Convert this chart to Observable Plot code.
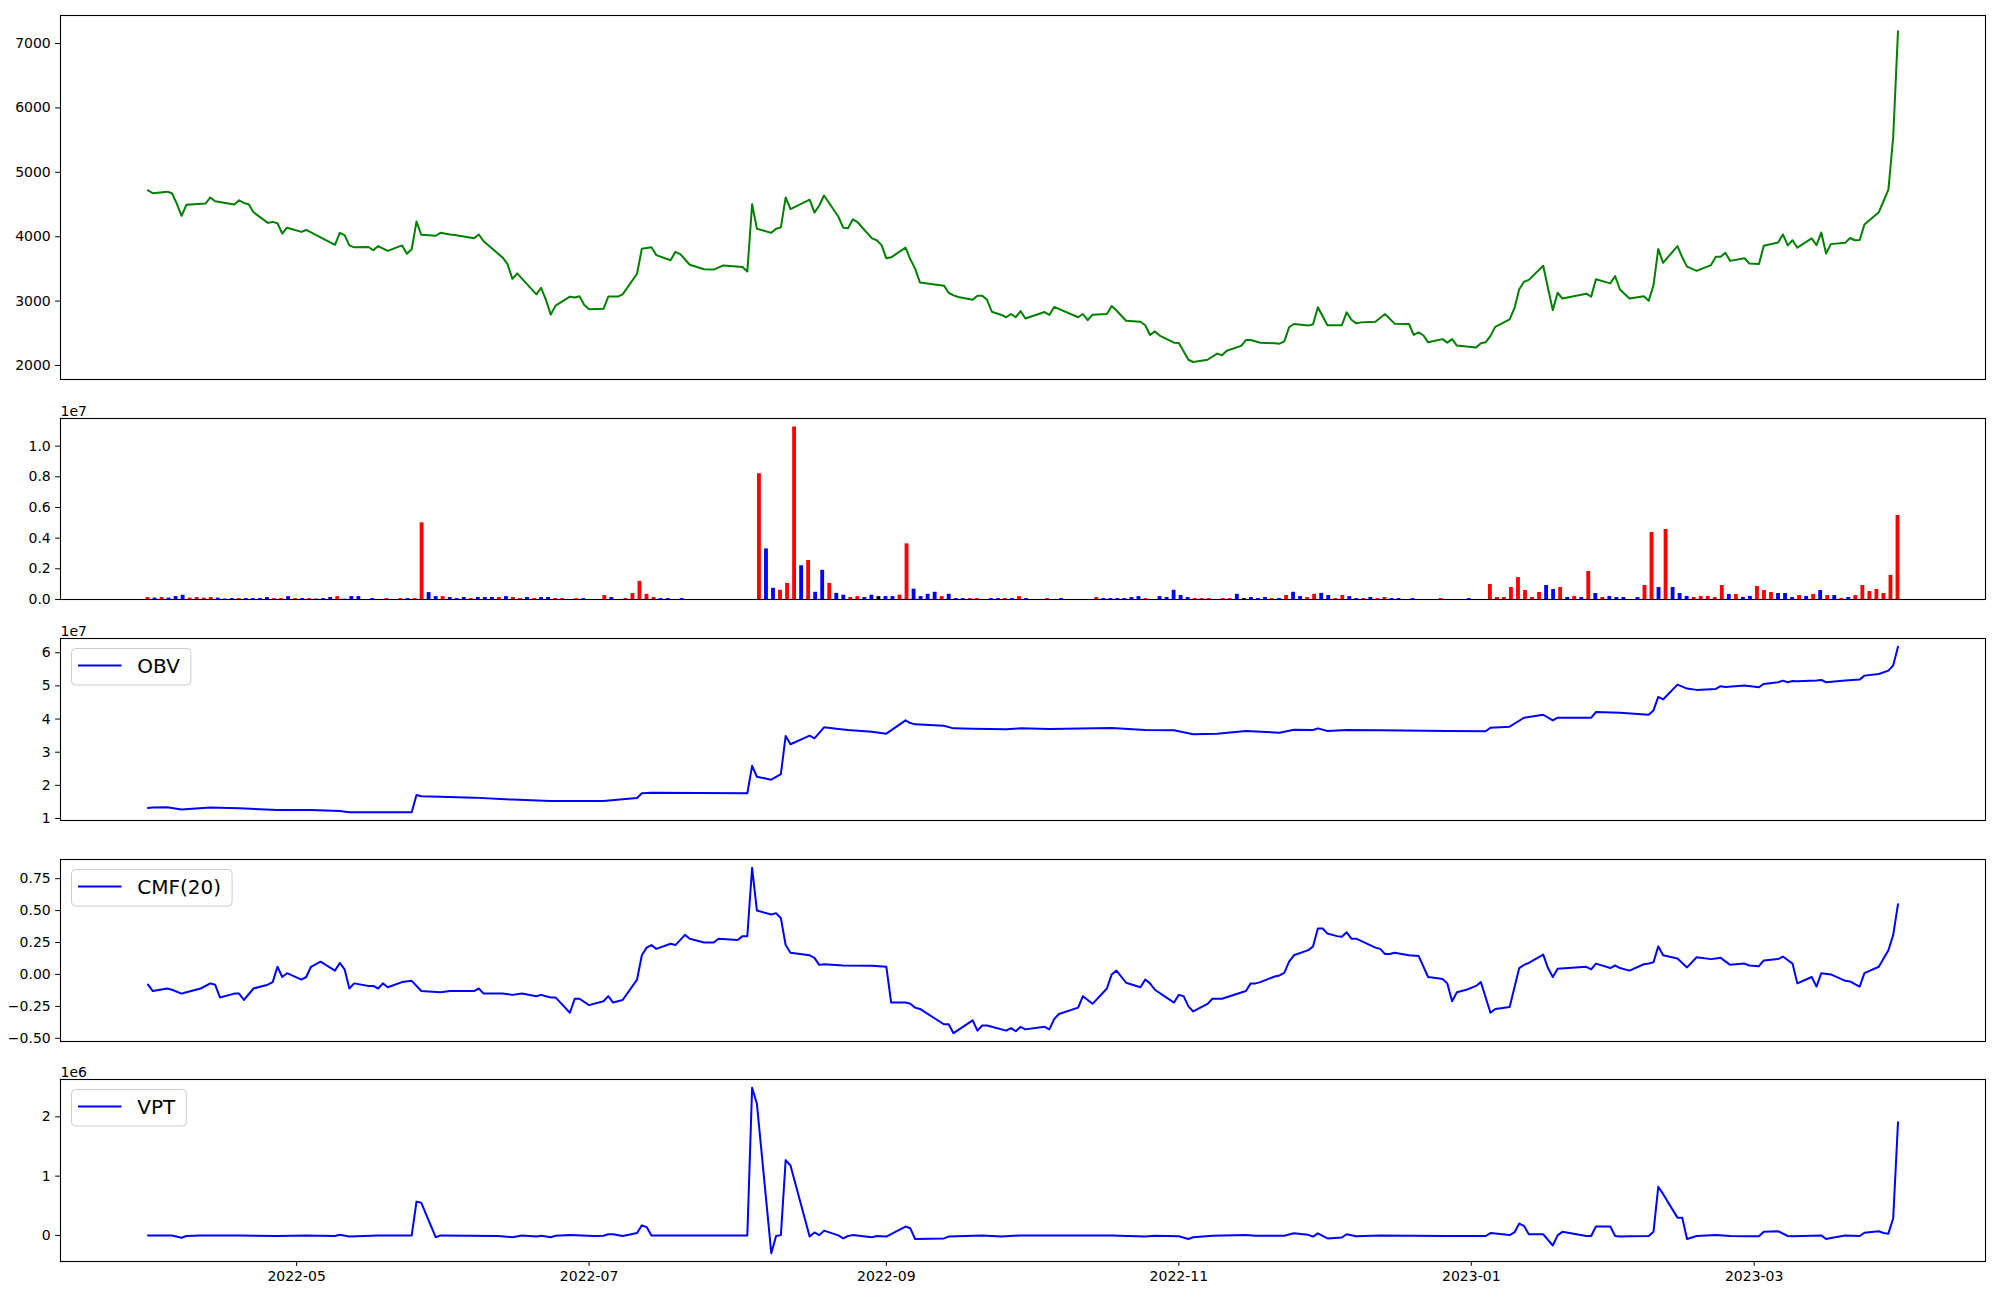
<!DOCTYPE html>
<html><head><meta charset="utf-8">
<script src="https://cdn.jsdelivr.net/npm/d3@7"></script>
<script src="https://cdn.jsdelivr.net/npm/@observablehq/plot@0.6"></script>
<style>
body{margin:0;background:#fff;}
#chart{position:relative;width:2000px;height:1300px;background:#fff;font-family:"DejaVu Sans",sans-serif;}
#chart svg{position:absolute;left:0;}
</style></head><body><div id="chart"></div>
<script>
// ---------- DATA ----------
const periodStart = "2022-03-31", periodEnd = "2023-03-31";
const monthTickLabels = ["2022-05","2022-07","2022-09","2022-11","2023-01","2023-03"];

const priceSeries = [["2022-03-31",4720],["2022-04-01",4675],["2022-04-04",4700],["2022-04-05",4675],["2022-04-06",4515],["2022-04-07",4325],["2022-04-08",4495],["2022-04-12",4515],["2022-04-13",4610],["2022-04-14",4550],["2022-04-18",4500],["2022-04-19",4565],["2022-04-20",4525],["2022-04-21",4505],["2022-04-22",4380],["2022-04-25",4215],["2022-04-26",4230],["2022-04-27",4210],["2022-04-28",4050],["2022-04-29",4140],["2022-05-02",4075],["2022-05-03",4105],["2022-05-09",3875],["2022-05-10",4060],["2022-05-11",4025],["2022-05-12",3865],["2022-05-13",3835],["2022-05-16",3840],["2022-05-17",3790],["2022-05-18",3855],["2022-05-20",3780],["2022-05-23",3865],["2022-05-24",3735],["2022-05-25",3805],["2022-05-26",4235],["2022-05-27",4030],["2022-05-30",4015],["2022-05-31",4060],["2022-06-02",4035],["2022-06-03",4025],["2022-06-07",3975],["2022-06-08",4035],["2022-06-09",3930],["2022-06-13",3675],["2022-06-14",3570],["2022-06-15",3345],["2022-06-16",3430],["2022-06-20",3105],["2022-06-21",3205],["2022-06-22",3020],["2022-06-23",2790],["2022-06-24",2930],["2022-06-27",3070],["2022-06-28",3055],["2022-06-29",3075],["2022-06-30",2940],["2022-07-01",2875],["2022-07-04",2880],["2022-07-05",3070],["2022-07-07",3070],["2022-07-08",3105],["2022-07-11",3425],["2022-07-12",3815],["2022-07-14",3835],["2022-07-15",3715],["2022-07-18",3635],["2022-07-19",3765],["2022-07-20",3730],["2022-07-22",3565],["2022-07-25",3495],["2022-07-27",3490],["2022-07-29",3555],["2022-08-02",3530],["2022-08-03",3460],["2022-08-04",4505],["2022-08-05",4125],["2022-08-08",4060],["2022-08-09",4125],["2022-08-10",4145],["2022-08-11",4610],["2022-08-12",4430],["2022-08-16",4575],["2022-08-17",4375],["2022-08-18",4485],["2022-08-19",4640],["2022-08-22",4310],["2022-08-23",4140],["2022-08-24",4130],["2022-08-25",4270],["2022-08-26",4225],["2022-08-29",3975],["2022-08-30",3945],["2022-08-31",3870],["2022-09-01",3665],["2022-09-02",3680],["2022-09-05",3830],["2022-09-06",3650],["2022-09-07",3505],["2022-09-08",3290],["2022-09-13",3240],["2022-09-14",3130],["2022-09-15",3090],["2022-09-16",3065],["2022-09-19",3020],["2022-09-20",3085],["2022-09-21",3085],["2022-09-22",3020],["2022-09-23",2835],["2022-09-25",2785],["2022-09-26",2750],["2022-09-27",2800],["2022-09-28",2750],["2022-09-29",2845],["2022-09-30",2730],["2022-10-04",2830],["2022-10-05",2785],["2022-10-06",2910],["2022-10-11",2750],["2022-10-12",2800],["2022-10-13",2705],["2022-10-14",2790],["2022-10-17",2800],["2022-10-18",2925],["2022-10-19",2855],["2022-10-21",2695],["2022-10-24",2680],["2022-10-25",2625],["2022-10-26",2475],["2022-10-27",2530],["2022-10-28",2465],["2022-10-31",2355],["2022-11-01",2350],["2022-11-02",2220],["2022-11-03",2090],["2022-11-04",2055],["2022-11-07",2090],["2022-11-09",2185],["2022-11-10",2160],["2022-11-11",2230],["2022-11-14",2305],["2022-11-15",2395],["2022-11-16",2395],["2022-11-18",2355],["2022-11-21",2345],["2022-11-22",2340],["2022-11-23",2375],["2022-11-24",2595],["2022-11-25",2645],["2022-11-28",2620],["2022-11-29",2640],["2022-11-30",2905],["2022-12-02",2625],["2022-12-05",2625],["2022-12-06",2825],["2022-12-07",2710],["2022-12-08",2655],["2022-12-09",2670],["2022-12-12",2680],["2022-12-14",2800],["2022-12-16",2650],["2022-12-19",2645],["2022-12-20",2475],["2022-12-21",2515],["2022-12-22",2470],["2022-12-23",2360],["2022-12-26",2410],["2022-12-27",2355],["2022-12-28",2410],["2022-12-29",2310],["2023-01-02",2280],["2023-01-03",2345],["2023-01-04",2360],["2023-01-05",2460],["2023-01-06",2600],["2023-01-09",2715],["2023-01-10",2890],["2023-01-11",3185],["2023-01-12",3300],["2023-01-13",3330],["2023-01-16",3550],["2023-01-17",3200],["2023-01-18",2860],["2023-01-19",3130],["2023-01-20",3040],["2023-01-25",3115],["2023-01-26",3070],["2023-01-27",3340],["2023-01-30",3275],["2023-01-31",3390],["2023-02-01",3180],["2023-02-03",3040],["2023-02-06",3075],["2023-02-07",3005],["2023-02-08",3245],["2023-02-09",3810],["2023-02-10",3595],["2023-02-13",3855],["2023-02-14",3680],["2023-02-15",3535],["2023-02-17",3470],["2023-02-20",3560],["2023-02-21",3690],["2023-02-22",3690],["2023-02-23",3750],["2023-02-24",3625],["2023-02-27",3665],["2023-02-28",3585],["2023-03-02",3575],["2023-03-03",3860],["2023-03-06",3910],["2023-03-07",4035],["2023-03-08",3865],["2023-03-09",3945],["2023-03-10",3830],["2023-03-13",3975],["2023-03-14",3870],["2023-03-15",4065],["2023-03-16",3740],["2023-03-17",3885],["2023-03-20",3905],["2023-03-21",3980],["2023-03-22",3945],["2023-03-23",3950],["2023-03-24",4190],["2023-03-27",4380],["2023-03-29",4730],["2023-03-30",5550],["2023-03-31",7190]];

// volume per session (millions of shares); the source spreads these bars evenly over the period
const volumeMillions = [
.13,.09,.13,.09,.19,.28,.09,.13,.09,.13,
.09,.03,.06,.06,.06,.06,.06,.13,.06,.06,
.19,.06,.06,.06,.03,.06,.13,.19,.02,.19,
.19,0,.06,0,.06,0,.06,.06,.06,5.0,
.45,.19,.19,.13,.06,.13,.06,.13,.13,.13,
.13,.19,.13,.06,.13,.06,.13,.13,.06,.06,
0,.06,.06,0,0,.26,.13,0,.06,.39,
1.18,.34,.13,.06,.06,0,.06,0,0,0,
0,0,0,0,0,0,0,8.2,3.3,.73,
.6,1.05,11.25,2.2,2.54,.47,1.9,1.05,.4,.28,
.13,.19,.13,.28,.19,.19,.19,.28,3.63,.67,
.19,.34,.47,.19,.34,.06,.06,.06,.06,0,
.06,.06,.06,.06,.19,.06,0,0,.06,0,
.06,0,0,0,0,.13,.06,.06,.06,.06,
.13,.19,.06,0,.19,.13,.6,.26,.13,.06,
.06,.06,0,.06,.06,.34,.06,.13,.06,.13,
.06,.06,.26,.47,.19,.13,.34,.4,.26,.06,
.26,.19,.06,.06,.13,.06,.13,.06,.06,0,
.06,0,0,0,.06,0,0,0,.06,0,
0,.98,.13,.13,.78,1.43,.59,.13,.46,.91,
.65,.78,.13,.2,.13,1.83,.39,.13,.2,.13,
.13,0,.13,.91,4.37,.78,4.57,.78,.39,.2,
.13,.2,.2,.13,.91,.33,.33,.13,.2,.85,
.59,.46,.39,.39,.13,.26,.2,.33,.59,.26,
.26,.07,.13,.26,.91,.52,.65,.39,1.57,5.48];
// bar colour per session: r = up, b = down, k = unchanged
const volumeColors = ["rbrbbbrrrr","bbbrbbbbrr","brbrbbbrbb","bbbbrbrbrr","bbrbbbrbbb","rbrrbrbbrr","brbbbrbbrr","rrrbbbbbbb","bbbbbbbrbb","rrrbrbbrbb","rrbbkbbrrb","bbbrbbbrrb","bbrbrbbbrb","bbbbbrbbbb","bbrbbbbbbr","rrbrrbkbbb","rbrbbrrbbr","rbbrbrrbbb","bbbbrbbbbb","brrrrrrrrb","brbrbrbrbb","bbbrrbrbbb","rrrrrbrbbr","rrbbbrbrbr","brbrrrrrrr"].join("");

// OBV in units of 1e7
const obvSeries = [["2022-03-31",1.32],["2022-04-01",1.33],["2022-04-04",1.34],["2022-04-07",1.27],["2022-04-13",1.33],["2022-04-19",1.31],["2022-04-27",1.26],["2022-05-04",1.26],["2022-05-10",1.23],["2022-05-12",1.19],["2022-05-25",1.19],["2022-05-26",1.71],["2022-05-27",1.67],["2022-05-31",1.66],["2022-06-07",1.63],["2022-06-15",1.57],["2022-06-23",1.53],["2022-07-04",1.53],["2022-07-08",1.58],["2022-07-11",1.62],["2022-07-12",1.76],["2022-07-14",1.78],["2022-08-03",1.76],["2022-08-04",2.59],["2022-08-05",2.26],["2022-08-08",2.17],["2022-08-10",2.34],["2022-08-11",3.49],["2022-08-12",3.24],["2022-08-16",3.50],["2022-08-17",3.42],["2022-08-19",3.75],["2022-08-22",3.70],["2022-08-24",3.67],["2022-08-29",3.62],["2022-09-01",3.56],["2022-09-05",3.96],["2022-09-06",3.88],["2022-09-07",3.84],["2022-09-13",3.80],["2022-09-15",3.72],["2022-09-19",3.71],["2022-09-26",3.69],["2022-09-29",3.72],["2022-10-05",3.70],["2022-10-18",3.73],["2022-10-25",3.67],["2022-10-31",3.66],["2022-11-04",3.54],["2022-11-09",3.56],["2022-11-15",3.64],["2022-11-22",3.59],["2022-11-25",3.68],["2022-11-29",3.67],["2022-11-30",3.72],["2022-12-02",3.64],["2022-12-06",3.67],["2022-12-13",3.66],["2022-12-27",3.64],["2023-01-04",3.63],["2023-01-05",3.74],["2023-01-09",3.77],["2023-01-12",4.04],["2023-01-16",4.13],["2023-01-18",3.96],["2023-01-19",4.04],["2023-01-26",4.04],["2023-01-27",4.21],["2023-02-01",4.19],["2023-02-07",4.13],["2023-02-08",4.26],["2023-02-09",4.67],["2023-02-10",4.59],["2023-02-13",5.04],["2023-02-15",4.92],["2023-02-17",4.88],["2023-02-21",4.91],["2023-02-22",4.99],["2023-02-23",4.97],["2023-02-27",5.01],["2023-03-02",4.96],["2023-03-03",5.06],["2023-03-06",5.11],["2023-03-07",5.16],["2023-03-08",5.11],["2023-03-09",5.15],["2023-03-10",5.14],["2023-03-14",5.16],["2023-03-15",5.18],["2023-03-16",5.11],["2023-03-20",5.16],["2023-03-23",5.19],["2023-03-24",5.31],["2023-03-27",5.36],["2023-03-29",5.46],["2023-03-30",5.62],["2023-03-31",6.18]];

const cmfSeries = [["2022-03-31",-0.08],["2022-04-01",-0.13],["2022-04-04",-0.11],["2022-04-05",-0.12],["2022-04-07",-0.15],["2022-04-08",-0.14],["2022-04-11",-0.11],["2022-04-13",-0.07],["2022-04-14",-0.08],["2022-04-15",-0.18],["2022-04-18",-0.15],["2022-04-19",-0.15],["2022-04-20",-0.20],["2022-04-22",-0.11],["2022-04-25",-0.08],["2022-04-26",-0.06],["2022-04-27",0.06],["2022-04-28",-0.02],["2022-04-29",0.01],["2022-05-02",-0.04],["2022-05-03",-0.02],["2022-05-04",0.06],["2022-05-06",0.10],["2022-05-09",0.03],["2022-05-10",0.09],["2022-05-11",0.04],["2022-05-12",-0.11],["2022-05-13",-0.07],["2022-05-16",-0.09],["2022-05-17",-0.09],["2022-05-18",-0.11],["2022-05-19",-0.07],["2022-05-20",-0.10],["2022-05-23",-0.06],["2022-05-25",-0.05],["2022-05-27",-0.13],["2022-05-31",-0.14],["2022-06-02",-0.13],["2022-06-07",-0.13],["2022-06-08",-0.11],["2022-06-09",-0.15],["2022-06-13",-0.15],["2022-06-15",-0.16],["2022-06-17",-0.15],["2022-06-20",-0.17],["2022-06-21",-0.16],["2022-06-22",-0.17],["2022-06-23",-0.18],["2022-06-24",-0.18],["2022-06-27",-0.30],["2022-06-28",-0.19],["2022-06-29",-0.19],["2022-07-01",-0.24],["2022-07-04",-0.21],["2022-07-05",-0.17],["2022-07-06",-0.22],["2022-07-08",-0.20],["2022-07-11",-0.04],["2022-07-12",0.15],["2022-07-13",0.21],["2022-07-14",0.23],["2022-07-15",0.20],["2022-07-18",0.24],["2022-07-19",0.23],["2022-07-21",0.31],["2022-07-22",0.28],["2022-07-25",0.25],["2022-07-27",0.25],["2022-07-28",0.28],["2022-08-01",0.27],["2022-08-02",0.30],["2022-08-03",0.30],["2022-08-04",0.835],["2022-08-05",0.50],["2022-08-08",0.47],["2022-08-09",0.48],["2022-08-10",0.44],["2022-08-11",0.23],["2022-08-12",0.17],["2022-08-16",0.15],["2022-08-17",0.13],["2022-08-18",0.075],["2022-08-19",0.08],["2022-08-23",0.07],["2022-08-29",0.068],["2022-09-01",0.06],["2022-09-02",-0.22],["2022-09-05",-0.22],["2022-09-06",-0.23],["2022-09-07",-0.26],["2022-09-08",-0.27],["2022-09-13",-0.39],["2022-09-14",-0.39],["2022-09-15",-0.46],["2022-09-19",-0.36],["2022-09-20",-0.44],["2022-09-21",-0.40],["2022-09-22",-0.40],["2022-09-23",-0.41],["2022-09-26",-0.44],["2022-09-27",-0.42],["2022-09-28",-0.445],["2022-09-29",-0.41],["2022-09-30",-0.43],["2022-10-04",-0.41],["2022-10-05",-0.43],["2022-10-06",-0.35],["2022-10-07",-0.31],["2022-10-11",-0.26],["2022-10-12",-0.17],["2022-10-14",-0.23],["2022-10-17",-0.11],["2022-10-18",0.00],["2022-10-19",0.03],["2022-10-21",-0.065],["2022-10-24",-0.10],["2022-10-25",-0.04],["2022-10-26",-0.07],["2022-10-27",-0.12],["2022-10-31",-0.22],["2022-11-01",-0.16],["2022-11-02",-0.17],["2022-11-03",-0.25],["2022-11-04",-0.29],["2022-11-07",-0.23],["2022-11-08",-0.19],["2022-11-10",-0.19],["2022-11-15",-0.13],["2022-11-16",-0.07],["2022-11-17",-0.07],["2022-11-18",-0.06],["2022-11-21",-0.016],["2022-11-22",-0.008],["2022-11-23",0.013],["2022-11-24",0.10],["2022-11-25",0.15],["2022-11-28",0.19],["2022-11-29",0.22],["2022-11-30",0.36],["2022-12-01",0.36],["2022-12-02",0.32],["2022-12-04",0.30],["2022-12-05",0.295],["2022-12-06",0.33],["2022-12-07",0.28],["2022-12-08",0.28],["2022-12-10",0.245],["2022-12-12",0.21],["2022-12-13",0.20],["2022-12-14",0.16],["2022-12-15",0.16],["2022-12-16",0.17],["2022-12-19",0.15],["2022-12-21",0.145],["2022-12-23",-0.02],["2022-12-25",-0.03],["2022-12-26",-0.035],["2022-12-27",-0.07],["2022-12-28",-0.21],["2022-12-29",-0.14],["2022-12-31",-0.12],["2023-01-02",-0.09],["2023-01-03",-0.06],["2023-01-04",-0.18],["2023-01-05",-0.30],["2023-01-06",-0.27],["2023-01-09",-0.255],["2023-01-11",0.05],["2023-01-12",0.075],["2023-01-13",0.09],["2023-01-16",0.155],["2023-01-17",0.05],["2023-01-18",-0.02],["2023-01-19",0.045],["2023-01-25",0.06],["2023-01-26",0.04],["2023-01-27",0.085],["2023-01-30",0.05],["2023-01-31",0.07],["2023-02-01",0.05],["2023-02-03",0.03],["2023-02-06",0.08],["2023-02-07",0.085],["2023-02-08",0.095],["2023-02-09",0.22],["2023-02-10",0.15],["2023-02-13",0.125],["2023-02-15",0.055],["2023-02-17",0.135],["2023-02-20",0.12],["2023-02-21",0.125],["2023-02-22",0.13],["2023-02-24",0.075],["2023-02-27",0.085],["2023-02-28",0.07],["2023-03-02",0.065],["2023-03-03",0.11],["2023-03-06",0.12],["2023-03-07",0.14],["2023-03-09",0.085],["2023-03-10",-0.07],["2023-03-13",-0.02],["2023-03-14",-0.095],["2023-03-15",0.01],["2023-03-17",0.0],["2023-03-20",-0.05],["2023-03-21",-0.055],["2023-03-22",-0.075],["2023-03-23",-0.095],["2023-03-24",0.01],["2023-03-27",0.06],["2023-03-29",0.19],["2023-03-30",0.31],["2023-03-31",0.55]];

// VPT in units of 1e6
const vptSeries = [["2022-03-31",0],["2022-04-05",0],["2022-04-07",-0.04],["2022-04-08",-0.01],["2022-04-11",0],["2022-04-19",0],["2022-04-27",-0.01],["2022-05-03",0],["2022-05-09",-0.01],["2022-05-10",0.01],["2022-05-12",-0.02],["2022-05-18",0],["2022-05-25",0],["2022-05-26",0.57],["2022-05-27",0.55],["2022-05-30",-0.03],["2022-05-31",0],["2022-06-12",-0.01],["2022-06-15",-0.03],["2022-06-17",0],["2022-06-20",-0.02],["2022-06-21",-0.005],["2022-06-23",-0.03],["2022-06-24",-0.005],["2022-06-27",0.005],["2022-07-02",-0.01],["2022-07-04",-0.005],["2022-07-05",0.02],["2022-07-06",0.02],["2022-07-08",-0.01],["2022-07-11",0.04],["2022-07-12",0.17],["2022-07-13",0.14],["2022-07-14",0],["2022-07-22",0],["2022-08-03",0],["2022-08-04",2.49],["2022-08-05",2.22],["2022-08-08",-0.30],["2022-08-09",-0.01],["2022-08-10",0.005],["2022-08-11",1.27],["2022-08-12",1.18],["2022-08-16",-0.02],["2022-08-17",0.05],["2022-08-18",0.005],["2022-08-19",0.08],["2022-08-22",0],["2022-08-23",-0.05],["2022-08-24",-0.01],["2022-08-25",0.005],["2022-08-29",-0.03],["2022-08-30",-0.01],["2022-09-01",-0.02],["2022-09-05",0.15],["2022-09-06",0.12],["2022-09-07",-0.06],["2022-09-13",-0.05],["2022-09-14",-0.02],["2022-09-21",0],["2022-09-25",-0.02],["2022-09-29",0],["2022-10-18",0],["2022-10-25",-0.02],["2022-10-27",-0.005],["2022-11-01",-0.015],["2022-11-03",-0.06],["2022-11-04",-0.03],["2022-11-08",-0.005],["2022-11-15",0.005],["2022-11-17",-0.005],["2022-11-23",-0.005],["2022-11-25",0.035],["2022-11-28",0.01],["2022-11-29",-0.02],["2022-11-30",0.035],["2022-12-02",-0.05],["2022-12-05",-0.035],["2022-12-06",0.02],["2022-12-08",-0.015],["2022-12-13",0],["2022-12-27",-0.01],["2023-01-04",-0.01],["2023-01-05",0.04],["2023-01-09",0.005],["2023-01-10",0.05],["2023-01-11",0.2],["2023-01-12",0.16],["2023-01-13",0.02],["2023-01-16",0.02],["2023-01-18",-0.17],["2023-01-19",0],["2023-01-20",0.06],["2023-01-25",-0.01],["2023-01-26",-0.01],["2023-01-27",0.15],["2023-01-30",0.15],["2023-01-31",-0.01],["2023-02-01",-0.02],["2023-02-03",-0.015],["2023-02-07",-0.01],["2023-02-08",0.06],["2023-02-09",0.82],["2023-02-10",0.70],["2023-02-13",0.30],["2023-02-14",0.30],["2023-02-15",-0.06],["2023-02-17",-0.01],["2023-02-21",0.005],["2023-02-24",-0.01],["2023-02-28",-0.015],["2023-03-02",-0.015],["2023-03-03",0.06],["2023-03-06",0.07],["2023-03-08",-0.01],["2023-03-09",-0.015],["2023-03-15",0],["2023-03-16",-0.06],["2023-03-17",-0.045],["2023-03-20",0],["2023-03-23",-0.01],["2023-03-24",0.045],["2023-03-27",0.07],["2023-03-28",0.04],["2023-03-29",0.03],["2023-03-30",0.29],["2023-03-31",1.91]];

const priceTicks = [2000,3000,4000,5000,6000,7000];
const volumeTicks = [0,2e6,4e6,6e6,8e6,10e6];
const obvTicks = [1e7,2e7,3e7,4e7,5e7,6e7];
const cmfTicks = [-0.5,-0.25,0,0.25,0.5,0.75];
const vptTicks = [0,1e6,2e6];

// ---------- BUILD ----------
const DAY = 864e5;
const parse = s => new Date(s + "T00:00:00Z");
const t0 = parse(periodStart), t1 = parse(periodEnd);
const xDomain = [new Date(+t0 - 18.25 * DAY), new Date(+t1 + 18.25 * DAY)];
const monthTicks = monthTickLabels.map(m => parse(m + "-01"));
const barStep = (t1 - t0) / (volumeMillions.length - 1);
const colorOf = {r: "#ff0000", b: "#0000ff", k: "#000000"};
const volumeRows = volumeMillions.map((v, i) => ({date: new Date(+t0 + i * barStep), v: v * 1e6, c: colorOf[volumeColors[i]]}));
const rows = (series, k) => series.map(([d, v]) => ({date: parse(d), v: v * k}));
const priceRows = rows(priceSeries, 1), obvRows = rows(obvSeries, 1e7), cmfRows = rows(cmfSeries, 1), vptRows = rows(vptSeries, 1e6);

const chart = document.getElementById("chart");
const TICK = 4.86;

function panel({top, bottom, mt = 30, mb = 10, yDomain, yTicks, yFmt, marks, xAxis = false, offset = null, legend = null}) {
  const svg = Plot.plot({
    width: 2000, height: bottom - top + mt + mb,
    marginLeft: 60, marginRight: 15, marginTop: mt, marginBottom: mb,
    style: {fontSize: "14px", fontFamily: "DejaVu Sans, sans-serif", background: "transparent", color: "black", overflow: "visible"},
    x: {type: "utc", domain: xDomain, axis: xAxis ? undefined : null},
    y: {domain: yDomain},
    marks: [
      ...marks,
      Plot.axisY({ticks: yTicks, tickFormat: yFmt, tickSize: TICK, tickPadding: TICK, label: null, fontSize: 14}),
      xAxis ? Plot.axisX({ticks: monthTicks, tickFormat: d3.utcFormat("%Y-%m"), tickSize: TICK, tickPadding: TICK, label: null, fontSize: 14}) : null,
      offset ? Plot.text([offset], {frameAnchor: "top-left", textAnchor: "start", lineAnchor: "bottom", dy: -3, fontSize: 14}) : null,
      Plot.frame({stroke: "black", strokeWidth: 1.1})
    ]
  });
  svg.style.top = (top - mt) + "px";
  chart.appendChild(svg);
  if (legend) {
    const g = d3.select(svg).append("g").attr("text-anchor", "start");
    const x0 = 60, y0 = mt;
    const rect = g.append("rect").attr("x", x0 + 11.5).attr("y", y0 + 10.5).attr("height", 36.5).attr("rx", 4)
      .attr("fill", "white").attr("fill-opacity", 0.8).attr("stroke", "#cccccc").attr("stroke-width", 1);
    g.append("line").attr("x1", x0 + 18).attr("x2", x0 + 61.5).attr("y1", y0 + 27.5).attr("y2", y0 + 27.5)
      .attr("stroke", "#0000ff").attr("stroke-width", 2);
    const t = g.append("text").attr("x", x0 + 77.3).attr("y", y0 + 27.5).attr("dy", "0.35em").attr("text-anchor", "start")
      .attr("font-size", 20).attr("font-family", "DejaVu Sans, sans-serif").attr("fill", "black").text(legend);
    const w = t.node().getComputedTextLength();
    rect.attr("width", 77.3 - 11.5 + w + 11);
  }
  return svg;
}

panel({top: 15, bottom: 379, mt: 15, yDomain: [1783, 7435], yTicks: priceTicks, yFmt: d3.format("d"),
  marks: [Plot.lineY(priceRows, {x: "date", y: "v", stroke: "#008000", strokeWidth: 2})]});

panel({top: 418, bottom: 599, yDomain: [0, 1.18e7], yTicks: volumeTicks, yFmt: d => (d / 1e7).toFixed(1), offset: "1e7",
  marks: [Plot.rect(volumeRows, {x1: d => new Date(+d.date - 0.4 * DAY), x2: d => new Date(+d.date + 0.4 * DAY), y1: 0, y2: "v", fill: "c"})]});

panel({top: 638, bottom: 820, yDomain: [0.94e7, 6.43e7], yTicks: obvTicks, yFmt: d => String(d / 1e7), offset: "1e7", legend: "OBV",
  marks: [Plot.lineY(obvRows, {x: "date", y: "v", stroke: "#0000ff", strokeWidth: 2})]});

panel({top: 859, bottom: 1041, yDomain: [-0.525, 0.9], yTicks: cmfTicks, yFmt: d => d3.format(".2f")(d).replace("-", "\u2212"), legend: "CMF(20)",
  marks: [Plot.lineY(cmfRows, {x: "date", y: "v", stroke: "#0000ff", strokeWidth: 2})]});

panel({top: 1079, bottom: 1261, mb: 39, yDomain: [-0.44e6, 2.63e6], yTicks: vptTicks, yFmt: d => String(d / 1e6), offset: "1e6", legend: "VPT", xAxis: true,
  marks: [Plot.lineY(vptRows, {x: "date", y: "v", stroke: "#0000ff", strokeWidth: 2})]});
</script></body></html>
